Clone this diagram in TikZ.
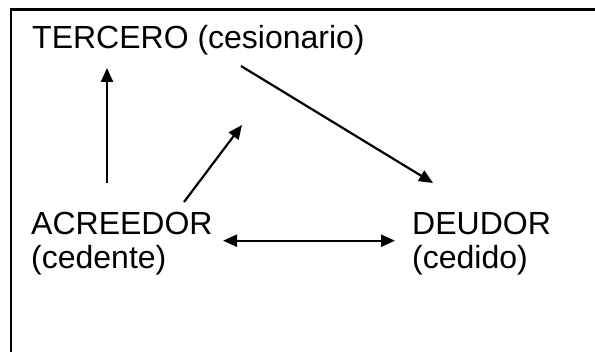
\documentclass[tikz,border=0pt]{standalone}
\usepackage{fontspec}
\setmainfont{Liberation Sans}
\usetikzlibrary{arrows.meta}
\begin{document}
\begin{tikzpicture}[x=1pt,y=1pt,
  lbl/.style={inner sep=0pt,anchor=base west,align=left,font=\fontsize{32}{33.5}\selectfont},
  conn/.style={line width=2.2pt,-{Triangle[length=14pt,width=12pt]}},
  dconn/.style={line width=2.2pt,{Triangle[length=14pt,width=12pt]}-{Triangle[length=14pt,width=12pt]}}]
\useasboundingbox (0,0) rectangle (595,352);
\draw[line width=2.2pt] (11,-5) -- (11,342.5) -- (600,342.5);
\node[lbl] (ter) at (32,303.5) {TERCERO (cesionario)};
\node[lbl] (acr) at (31,83.5) {ACREEDOR\\(cedente)};
\node[lbl] (deu) at (412,83.5) {DEUDOR\\(cedido)};
\coordinate (v1) at (107,169);
\coordinate (v2) at (107,284);
\coordinate (d1) at (184,150);
\coordinate (d2) at (242,227);
\coordinate (t1) at (241,286);
\coordinate (t2) at (433,169);
\coordinate (h1) at (223,111.3);
\coordinate (h2) at (395,111.3);
\draw[conn] (v1) -- (v2);
\draw[conn] (d1) -- (d2);
\draw[conn] (t1) -- (t2);
\draw[dconn] (h1) -- (h2);
\end{tikzpicture}
\end{document}
